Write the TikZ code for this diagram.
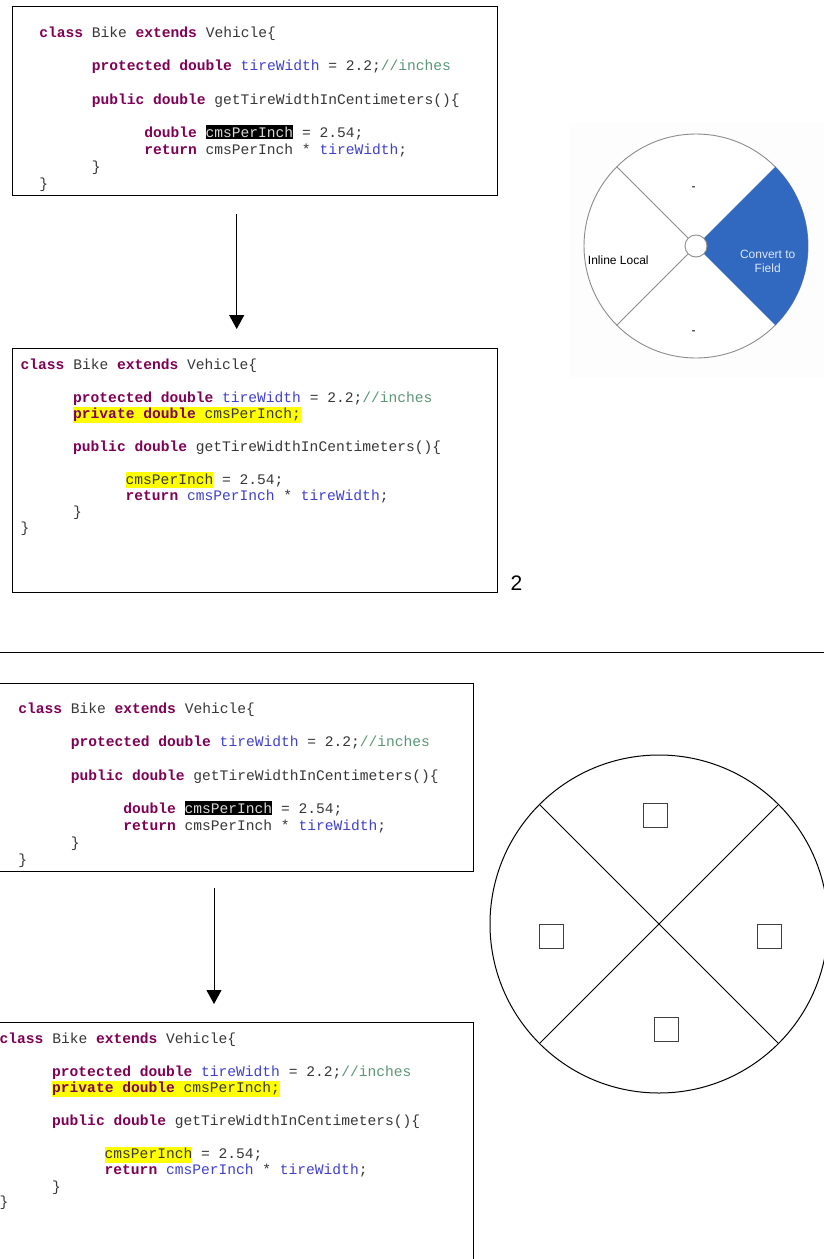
\documentclass[tikz,border=0pt]{standalone}
\usepackage{fontspec}
\setmainfont{Liberation Sans}
\newfontfamily\codefont{Liberation Mono}
\newfontfamily\uifont{Liberation Sans}
\usetikzlibrary{arrows.meta}

\definecolor{kwcol}{RGB}{127,0,85}
\definecolor{plaincol}{RGB}{55,55,55}
\definecolor{fldcol}{RGB}{64,64,205}
\definecolor{cmtcol}{RGB}{90,150,120}
\definecolor{hlyel}{RGB}{255,255,0}
\definecolor{pieblue}{RGB}{49,104,192}
\definecolor{pieedge}{RGB}{140,140,140}
\definecolor{pietext}{RGB}{222,232,247}

% syntax colouring helpers
\newcommand\kw[1]{{\bfseries\color{kwcol}#1}}
\newcommand\fl[1]{\textcolor{fldcol}{#1}}
\newcommand\cm[1]{\textcolor{cmtcol}{#1}}
\newcommand\hlbk[1]{{\setlength{\fboxsep}{0pt}\colorbox{black}{\rule[-2pt]{0pt}{14.3pt}\textcolor{white!85!black}{#1}}}}
\newcommand\hlyw[1]{{\setlength{\fboxsep}{0pt}\colorbox{hlyel}{\rule[-4.4pt]{0pt}{16.2pt}#1}}}

% original method: local variable
\newcommand\codeLocal[1]{%
  \node[codeline] (#1-1) at (0,0) {\kw{class} Bike \kw{extends} Vehicle\{};
  \node[codeline] (#1-2) at (52.5,32.7) {\kw{protected double} \fl{tireWidth} = 2.2;\cm{//inches}};
  \node[codeline] (#1-3) at (52.5,67) {\kw{public double} getTireWidthInCentimeters()\{};
  \node[codeline] (#1-4) at (105,100) {\kw{double} \hlbk{cmsPerInch} = 2.54;};
  \node[codeline] (#1-5) at (105,116.7) {\kw{return} cmsPerInch * \fl{tireWidth};};
  \node[codeline] (#1-6) at (52.5,134.2) {\}};
  \node[codeline] (#1-7) at (0,150.7) {\}};
}
% refactored method: field
\newcommand\codeField[1]{%
  \node[codeline] (#1-1) at (0,0) {\kw{class} Bike \kw{extends} Vehicle\{};
  \node[codeline] (#1-2) at (52.5,33.3) {\kw{protected double} \fl{tireWidth} = 2.2;\cm{//inches}};
  \node[codeline] (#1-3) at (52.5,49.3) {\hlyw{\kw{private double} cmsPerInch;}};
  \node[codeline] (#1-4) at (52.5,82) {\kw{public double} getTireWidthInCentimeters()\{};
  \node[codeline] (#1-5) at (105,115) {\hlyw{cmsPerInch} = 2.54;};
  \node[codeline] (#1-6) at (105,131) {\kw{return} \fl{cmsPerInch} * \fl{tireWidth};};
  \node[codeline] (#1-7) at (52.5,147.7) {\}};
  \node[codeline] (#1-8) at (0,163.3) {\}};
}

\begin{document}
\begin{tikzpicture}[x=1pt,y=-1pt,
  codeline/.style={anchor=base west,inner sep=0pt,outer sep=0pt,
    font=\codefont\fontsize{14.6}{16}\selectfont,text=plaincol},
  codebox/.style={draw=black,line width=1pt,anchor=north west,inner sep=0pt},
  flow/.style={-{Triangle[width=15pt,length=14pt]},line width=1pt,black},
  uilabel/.style={font=\uifont\fontsize{12}{14}\selectfont,inner sep=0pt},
  slot/.style={draw=black!75,line width=1pt,minimum size=24pt,inner sep=0pt},
]
\useasboundingbox (0,0) rectangle (824,1259);
\clip (0,0) rectangle (824,1259);
\fill[white] (0,0) rectangle (824,1259);

% ---------- upper half ----------
\node[codebox,minimum width=485pt,minimum height=189pt] (box1) at (12,6) {};
\node[codebox,minimum width=485pt,minimum height=244pt] (box2) at (12,348) {};
\begin{scope}[shift={(39.3,37.3)}] \codeLocal{ta} \end{scope}
\begin{scope}[shift={(20.7,369)}] \codeField{tb} \end{scope}

\coordinate (a1x) at (236.7,0);
\draw[flow,shorten <=18pt,shorten >=19pt] (box1.south -| a1x) -- (box2.north -| a1x);

\node[font=\fontsize{21}{24}\selectfont,anchor=base west,inner sep=0pt] (pagenum) at (510.5,590) {2};

% pie menu screenshot
\fill[black!0.7] (569,123) rectangle (824,377);
\coordinate (pcen) at (696,246);
\draw[pieedge,line width=0.9pt,fill=white] (pcen) circle[radius=112];
\fill[pieblue] ([shift={(-45:11)}]pcen) arc[start angle=-45,end angle=45,radius=11]
  -- ([shift={(45:112)}]pcen) arc[start angle=45,end angle=-45,radius=112] -- cycle;
\node[circle,draw=pieedge,fill=white,line width=0.9pt,minimum size=22pt,inner sep=0pt] (hub) at (pcen) {};
\coordinate (pul) at (617,167);
\coordinate (pll) at (617,325);
\draw[pieedge,line width=0.9pt] (hub) -- (pul);
\draw[pieedge,line width=0.9pt] (hub) -- (pll);
\node[uilabel] (inl) at (618.3,260.7) {Inline Local};
\node[uilabel,text=pietext,align=center] (cvf) at (767.7,261.5) {Convert to\\Field};
\node[uilabel] (ptop) at (693.5,189) {-};
\node[uilabel] (pbot) at (693.5,332.7) {-};

% separator
\coordinate (sepL) at (0,652);
\coordinate (sepR) at (824,652);
\draw[line width=1pt] (sepL) -- (sepR);

% ---------- lower half ----------
\node[codebox,minimum width=482pt,minimum height=188pt] (box3) at (-9,683) {};
\node[codebox,minimum width=482pt,minimum height=244pt] (box4) at (-9,1022) {};
\begin{scope}[shift={(18.3,713.3)}] \codeLocal{tc} \end{scope}
\begin{scope}[shift={(-0.3,1043.3)}] \codeField{td} \end{scope}

\coordinate (a2x) at (214,0);
\draw[flow,shorten <=16pt,shorten >=18pt] (box3.south -| a2x) -- (box4.north -| a2x);

% wireframe of the pie menu
\node[circle,draw=black,line width=1pt,minimum size=338pt,inner sep=0pt] (wheel) at (659,924) {};
\draw[line width=1pt] (wheel.135) -- (wheel.-45);
\draw[line width=1pt] (wheel.45) -- (wheel.-135);
\node[slot] (sTop) at (655,815) {};
\node[slot] (sLeft) at (551,936) {};
\node[slot] (sRight) at (769,936) {};
\node[slot] (sBot) at (666,1029) {};
\end{tikzpicture}
\end{document}
